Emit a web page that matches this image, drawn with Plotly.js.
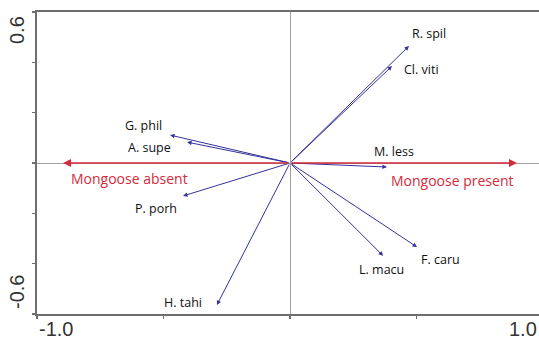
<!DOCTYPE html>
<html>
<head>
<meta charset="utf-8">
<script src="https://cdn.plot.ly/plotly-3.0.1.min.js"></script>
<style>
  html, body { margin: 0; padding: 0; background: #fff; }
  #chart { width: 539px; height: 344px; }
</style>
</head>
<body>
<div id="chart"></div>
<script>
// species loadings (arrow tips)
const species = ['R. spil', 'Cl. viti', 'M. less', 'G. phil', 'A. supe', 'P. porh', 'H. tahi', 'L. macu', 'F. caru'];
const speciesX = [0.470, 0.403, 0.383, -0.474, -0.407, -0.423, -0.289, 0.368, 0.502];
const speciesY = [0.465, 0.385, -0.016, 0.111, 0.083, -0.131, -0.564, -0.369, -0.334];

// environmental (nominal) variable
const envNames = ['Mongoose absent', 'Mongoose present'];
const envX = [-0.897, 0.897];
const envY = [0, 0];

// label placement relative to arrow tip, in pixels
const labelShift = [[20, 12], [30, -3], [7, 16], [-27, 10], [-38, -5], [-27, -13], [-34, 2], [-2, -14], [23, -12]];
const envShift = [[66, -15], [-65, -17]];

const blue = '#33339a';
const red = '#d42a3c';
const axisGrey = '#6e6e6e';

const annotations = [];

species.forEach((name, i) => {
    annotations.push({
        x: speciesX[i], y: speciesY[i], xref: 'x', yref: 'y',
        ax: 0, ay: 0, axref: 'x', ayref: 'y',
        text: '', showarrow: true,
        arrowhead: 2, arrowsize: 0.9, arrowwidth: 1, arrowcolor: blue,
        standoff: 0, startstandoff: 0
    });
    annotations.push({
        x: speciesX[i], y: speciesY[i], xref: 'x', yref: 'y',
        text: name, showarrow: false,
        xshift: labelShift[i][0], yshift: labelShift[i][1],
        font: { family: 'Open Sans', size: 12.5, color: '#111' }
    });
});

envNames.forEach((name, i) => {
    annotations.push({
        x: envX[i], y: envY[i], xref: 'x', yref: 'y',
        ax: 0, ay: 0, axref: 'x', ayref: 'y',
        text: '', showarrow: true,
        arrowhead: 2, arrowsize: 1.0, arrowwidth: 1.6, arrowcolor: red,
        standoff: 0
    });
    annotations.push({
        x: envX[i], y: envY[i], xref: 'x', yref: 'y',
        text: name, showarrow: false,
        xshift: envShift[i][0], yshift: envShift[i][1],
        font: { family: 'Open Sans', size: 14, color: red }
    });
});

// axis end labels (placed inside like the original)
const tickFont = { family: 'Liberation Sans, Arial', size: 20, color: '#333' };
annotations.push({ x: -1.0, y: 0, xref: 'x', yref: 'paper', yshift: -2, xanchor: 'left', yanchor: 'top', text: '-1.0', showarrow: false, font: tickFont });
annotations.push({ x: 1, y: 0, xref: 'paper', yref: 'paper', yshift: -2, xanchor: 'right', yanchor: 'top', text: '1.0', showarrow: false, font: tickFont });
annotations.push({ x: 0, y: 0.6, xref: 'paper', yref: 'y', xshift: -20, xanchor: 'center', yanchor: 'top', yshift: -2, text: '0.6', textangle: -90, showarrow: false, font: tickFont });
annotations.push({ x: 0, y: -0.6, xref: 'paper', yref: 'y', xshift: -20, xanchor: 'center', yanchor: 'bottom', yshift: 3, text: '-0.6', textangle: -90, showarrow: false, font: tickFont });

const layout = {
    width: 539, height: 344,
    margin: { l: 37, r: 0, t: 12, b: 30 },
    paper_bgcolor: '#fff', plot_bgcolor: '#fff',
    showlegend: false,
    xaxis: {
        range: [-1.0, 0.984], showgrid: false,
        zeroline: true, zerolinecolor: '#a0a0a0', zerolinewidth: 1,
        showline: true, linecolor: axisGrey, linewidth: 2, mirror: true,
        ticks: 'outside', ticklen: 3, tickwidth: 1.5, tickcolor: axisGrey,
        tick0: -1, dtick: 0.5, showticklabels: false
    },
    yaxis: {
        range: [-0.6, 0.6], showgrid: false,
        zeroline: true, zerolinecolor: '#a0a0a0', zerolinewidth: 1,
        showline: true, linecolor: axisGrey, linewidth: 2,
        ticks: 'outside', ticklen: 3, tickwidth: 1.5, tickcolor: axisGrey,
        tick0: -0.6, dtick: 0.2, showticklabels: false
    },
    annotations: annotations
};

Plotly.newPlot('chart', [{ x: [], y: [], type: 'scatter', mode: 'markers' }], layout, { staticPlot: true, displayModeBar: false });
</script>
</body>
</html>
